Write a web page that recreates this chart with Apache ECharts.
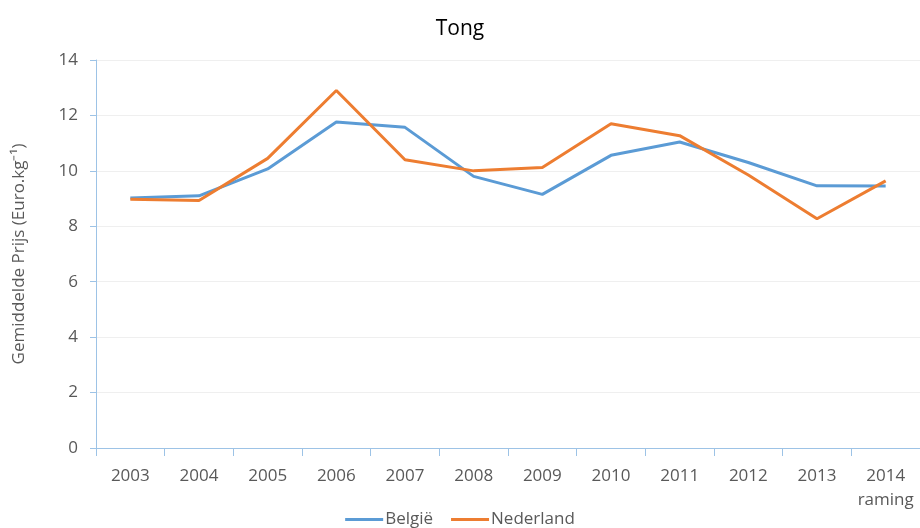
<!DOCTYPE html>
<html>
<head>
<meta charset="utf-8">
<script src="https://cdn.jsdelivr.net/npm/echarts@6/dist/echarts.min.js"></script>
<style>
html, body { margin: 0; padding: 0; background: #fff; }
#graphContainer { width: 920px; height: 528px; }
</style>
</head>
<body>
<div id="graphContainer"></div>
<script>
var years = ['2003', '2004', '2005', '2006', '2007', '2008', '2009', '2010', '2011', '2012', '2013', '2014\nraming'];
var belgie = [9.02, 9.1, 10.07, 11.76, 11.57, 9.8, 9.15, 10.56, 11.04, 10.3, 9.46, 9.45];
var nederland = [8.98, 8.93, 10.45, 12.9, 10.4, 10.0, 10.12, 11.7, 11.27, 9.85, 8.27, 9.64];
var yTicks = [0, 2, 4, 6, 8, 10, 12, 14];

var fontName = 'Open Sans';
var axisBlue = '#9dc3e6';
var labelGrey = '#595959';

var dom = document.getElementById('graphContainer');
var myEChart = echarts.init(dom, null, { renderer: 'canvas' });

var option = {
	animation: false,
	title: {
		text: 'Tong',
		left: 'center',
		top: 14,
		textStyle: { fontFamily: fontName, fontSize: 21, fontWeight: 'normal', color: '#000' }
	},
	grid: {
		left: 96,
		right: 0,
		top: 60,
		bottom: 80
	},
	xAxis: {
		type: 'category',
		data: years,
		boundaryGap: true,
		axisLine: { lineStyle: { color: axisBlue, width: 1 } },
		axisTick: { show: true, length: 8, lineStyle: { color: axisBlue } },
		axisLabel: {
			fontFamily: fontName, fontSize: 17, color: labelGrey,
			margin: 16, lineHeight: 24, interval: 0
		}
	},
	yAxis: {
		type: 'value',
		min: 0,
		max: yTicks[yTicks.length - 1],
		interval: 2,
		name: 'Gemiddelde Prijs (Euro.kg\u207B\u00B9)',
		nameLocation: 'middle',
		nameGap: 68,
		nameTextStyle: { fontFamily: fontName, fontSize: 17, color: labelGrey },
		axisLine: { show: true, lineStyle: { color: axisBlue, width: 1 } },
		axisTick: { show: true, length: 6, lineStyle: { color: axisBlue } },
		axisLabel: { fontFamily: fontName, fontSize: 17, color: labelGrey, margin: 18 },
		splitLine: { lineStyle: { color: '#efefef', width: 1 } }
	},
	legend: {
		top: 506,
		left: 'center',
		itemWidth: 38,
		itemHeight: 3,
		itemGap: 18,
		icon: 'rect',
		textStyle: { fontFamily: fontName, fontSize: 17, color: labelGrey, padding: [0, 0, 0, -3] },
		data: ['België', 'Nederland']
	},
	series: [
		{
			name: 'België',
			type: 'line',
			data: belgie,
			symbol: 'none',
			lineStyle: { color: '#5b9bd5', width: 3 },
			itemStyle: { color: '#5b9bd5' }
		},
		{
			name: 'Nederland',
			type: 'line',
			data: nederland,
			symbol: 'none',
			lineStyle: { color: '#ed7d31', width: 3 },
			itemStyle: { color: '#ed7d31' }
		}
	]
};

myEChart.setOption(option);
window.addEventListener('resize', myEChart.resize);
</script>
</body>
</html>
